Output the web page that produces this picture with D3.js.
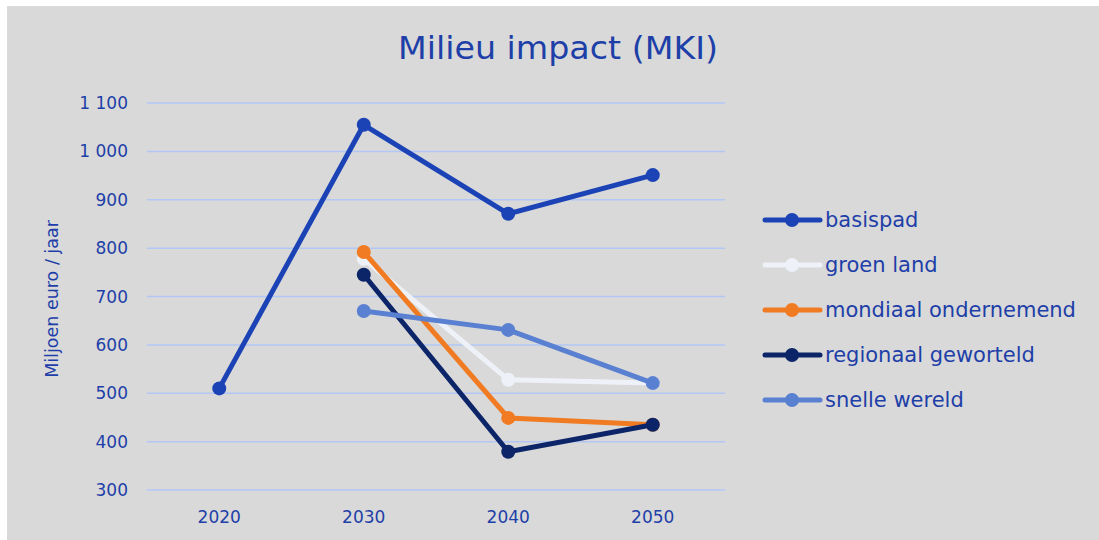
<!DOCTYPE html>
<html>
<head>
<meta charset="utf-8">
<script src="https://cdn.jsdelivr.net/npm/d3@7"></script>
<style>
  body { margin: 0; background: #fff; }
  svg { display: block; font-family: "DejaVu Sans", sans-serif; }
</style>
</head>
<body>
<svg width="1099" height="540"></svg>
<script>
var years = ["2020", "2030", "2040", "2050"];
var yTicks = [300, 400, 500, 600, 700, 800, 900, 1000, 1100];

var basispad  = [510, 1055, 871, 951];
var groenLand = [null, 778, 528, 521];
var mondiaal  = [null, 792, 449, 435];
var regionaal = [null, 745, 379, 435];
var snelle    = [null, 670, 631, 521];

var seriesNames  = ["basispad", "groen land", "mondiaal ondernemend", "regionaal geworteld", "snelle wereld"];
var seriesValues = [basispad, groenLand, mondiaal, regionaal, snelle];
var colors = ["#1b43b6", "#eef1f8", "#f07b22", "#0c2468", "#5a80d2"];

var svg = d3.select("svg"),
    width = +svg.attr("width"),
    height = +svg.attr("height");

var textBlue = "#1e3fa8";

svg.append("rect")
    .attr("x", 7).attr("y", 6)
    .attr("width", width - 7).attr("height", height - 6)
    .attr("fill", "#d9d9d9");

svg.append("text")
    .attr("x", 398).attr("y", 59)
    .attr("font-size", 32)
    .attr("textLength", 320)
    .attr("lengthAdjust", "spacingAndGlyphs")
    .attr("fill", textBlue)
    .text("Milieu impact (MKI)");

var x = d3.scalePoint()
    .domain(years)
    .range([147, 725])
    .padding(0.5);

var y = d3.scaleLinear()
    .domain([300, 1100])
    .range([490, 103]);

// gridlines
svg.append("g")
  .selectAll("line")
  .data(yTicks)
  .enter()
  .append("line")
    .attr("x1", 147).attr("x2", 725)
    .attr("y1", function(d){ return y(d) })
    .attr("y2", function(d){ return y(d) })
    .attr("stroke", "#b2c7f5")
    .attr("stroke-width", 1.5);

// y labels
svg.append("g")
  .selectAll("text")
  .data(yTicks)
  .enter()
  .append("text")
    .attr("x", 128)
    .attr("y", function(d){ return y(d) + 6 })
    .attr("text-anchor", "end")
    .attr("font-size", 17)
    .attr("fill", textBlue)
    .text(function(d){ return d >= 1000 ? d3.format(",")(d).replace(",", " ") : d });

// x labels
svg.append("g")
  .selectAll("text")
  .data(years)
  .enter()
  .append("text")
    .attr("x", function(d){ return x(d) })
    .attr("y", 523)
    .attr("text-anchor", "middle")
    .attr("font-size", 17)
    .attr("fill", textBlue)
    .text(function(d){ return d });

svg.append("text")
    .attr("transform", "translate(58,299) rotate(-90)")
    .attr("text-anchor", "middle")
    .attr("font-size", 17.5)
    .attr("fill", textBlue)
    .text("Miljoen euro / jaar");

var line = d3.line()
    .defined(function(d){ return d.v != null })
    .x(function(d){ return x(d.year) })
    .y(function(d){ return y(d.v) });

seriesValues.forEach(function(vals, i) {
    var pts = vals.map(function(v, j){ return { year: years[j], v: v } });
    var g = svg.append("g");
    g.append("path")
        .datum(pts)
        .attr("d", line)
        .attr("fill", "none")
        .attr("stroke", colors[i])
        .attr("stroke-width", 5)
        .attr("stroke-linejoin", "round");
    g.selectAll("circle")
        .data(pts.filter(function(d){ return d.v != null }))
        .enter()
        .append("circle")
          .attr("cx", function(d){ return x(d.year) })
          .attr("cy", function(d){ return y(d.v) })
          .attr("r", 7)
          .attr("fill", colors[i]);
});

// legend
var legend = svg.append("g")
  .selectAll("g")
  .data(seriesNames)
  .enter()
  .append("g")
    .attr("transform", function(d, i){ return "translate(765," + (220 + i * 45) + ")" });

legend.append("line")
    .attr("x1", 0).attr("x2", 55)
    .attr("stroke", function(d, i){ return colors[i] })
    .attr("stroke-width", 5)
    .attr("stroke-linecap", "round");
legend.append("circle")
    .attr("cx", 27).attr("r", 7)
    .attr("fill", function(d, i){ return colors[i] });
legend.append("text")
    .attr("x", 60).attr("y", 7)
    .attr("font-size", 21)
    .attr("fill", textBlue)
    .text(function(d){ return d });
</script>
</body>
</html>
